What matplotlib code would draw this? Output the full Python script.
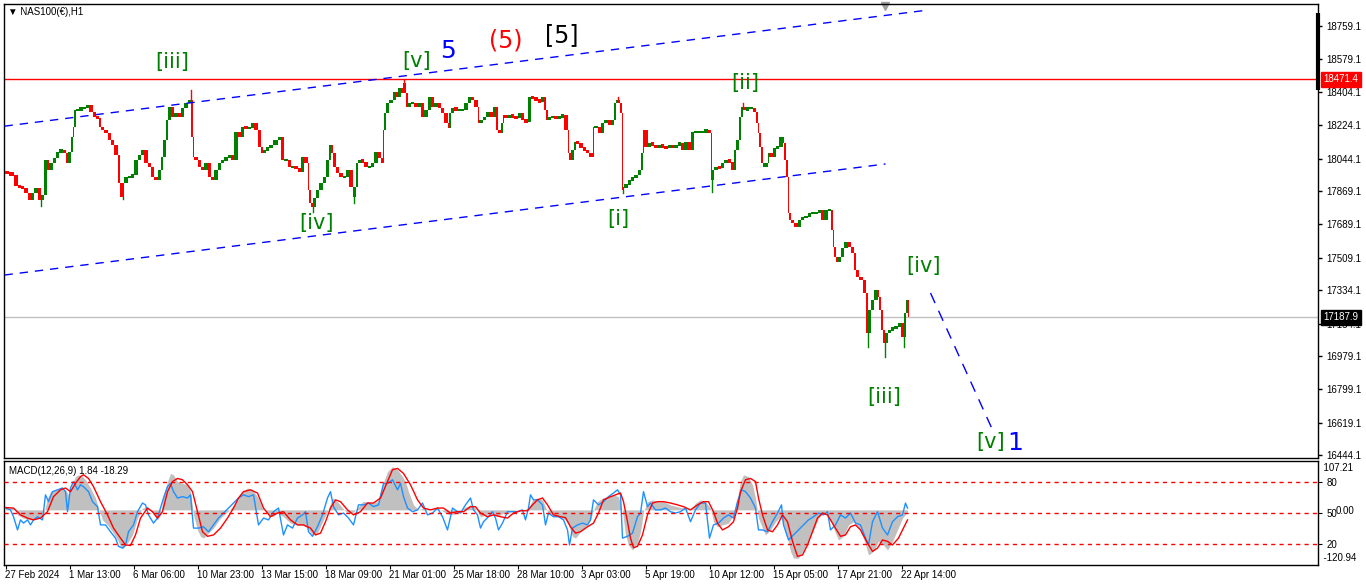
import numpy as np
import matplotlib.pyplot as plt
from matplotlib.transforms import blended_transform_factory

# ---- price path (bar index, close) ----
bars = [0, 4, 9, 13, 16, 19, 23, 26, 29, 33, 36, 39, 42, 44, 48, 51, 54, 58, 61, 63,
        66, 68, 69, 71, 74, 78, 81, 84, 88, 91, 94, 96, 99, 103, 106, 109, 113, 115, 118, 119,
        123, 126, 129, 133, 136, 139, 143, 146, 149, 153, 156, 158, 161, 163, 166, 169, 173, 176, 179, 183,
        186, 188, 189, 193, 196, 199, 203, 206, 209, 213, 216, 219, 223, 226, 229, 233, 236, 239, 243, 246,
        249, 253, 256, 258, 261, 264, 268, 273, 276, 279, 283, 286, 289, 293, 296, 299, 303, 304, 306, 308,
        311, 314, 318, 321, 324, 326, 328, 331, 334, 338, 341, 344, 348, 349, 351, 353, 356, 359, 363, 366,
        369, 373, 376, 378, 379, 381, 384, 388, 391, 393, 396, 398, 399, 401, 403, 406, 409, 413, 416, 419,
        423, 426, 429, 433, 436, 439, 443, 444, 446, 449, 453, 456, 459, 463, 466, 469, 473, 474, 478, 481,
        484, 488, 491, 493, 496, 498, 499, 503, 506, 509, 513, 516, 519, 523, 526, 529, 533, 536, 539, 541,
        543, 546, 549, 553, 556, 559, 563, 564, 566, 569, 571, 574, 578, 581, 584, 588, 589, 593, 596, 599,
        603, 606, 609, 611, 613, 615, 617, 618, 619, 623, 626, 629, 633, 636, 638, 639, 643, 646, 649, 653,
        656, 659, 663, 666, 669, 673, 676, 679, 683, 686, 689, 693, 696, 699, 703, 706, 707, 709, 713, 716,
        719, 723, 726, 729, 731, 734, 736, 738, 741, 744, 748, 751, 753, 754, 756, 758, 759, 763, 764, 768,
        771, 774, 778, 779, 781, 783, 784, 786, 789, 793, 796, 799, 803, 806, 809, 813, 816, 819, 823, 826,
        828, 829, 831, 833, 836, 839, 843, 846, 849, 851, 854, 858, 861, 863, 866, 869, 873, 874, 876, 878,
        880, 883, 886, 889, 893, 896, 899, 901, 903, 904]
closes = [17971, 17966, 17955, 17896, 17891, 17885, 17858, 17820, 17858, 17885, 17820, 17847, 18036, 17982, 18020, 18047, 18079, 18090, 18074, 18020,
          18079, 18160, 18214, 18306, 18306, 18317, 18317, 18333, 18295, 18268, 18263, 18214, 18198, 18182, 18144, 18117, 18063, 17912, 17837, 17912,
          17944, 17944, 17955, 18036, 18063, 18090, 18020, 17998, 17944, 17928, 17982, 18052, 18144, 18252, 18322, 18268, 18290, 18268, 18317, 18344,
          18360, 18160, 18052, 18036, 17998, 17982, 18020, 17944, 17928, 17982, 18020, 18036, 18047, 18063, 18036, 18187, 18160, 18214, 18209, 18209,
          18236, 18198, 18106, 18074, 18090, 18101, 18117, 18144, 18160, 18036, 18036, 17998, 17998, 17993, 17971, 18052, 18020, 17874, 17804, 17783,
          17831, 17874, 17912, 17944, 18036, 18117, 18074, 17998, 17966, 17944, 17944, 17982, 17891, 17837, 17891, 18020, 18036, 18025, 17998, 17998,
          18020, 18079, 18047, 18020, 18198, 18290, 18344, 18360, 18403, 18376, 18424, 18397, 18451, 18397, 18322, 18344, 18344, 18322, 18344, 18268,
          18306, 18376, 18322, 18344, 18317, 18290, 18236, 18209, 18290, 18317, 18306, 18306, 18306, 18344, 18376, 18360, 18322, 18236, 18252, 18268,
          18295, 18268, 18322, 18198, 18182, 18236, 18279, 18263, 18279, 18268, 18263, 18290, 18252, 18241, 18376, 18371, 18360, 18349, 18376, 18306,
          18252, 18268, 18268, 18263, 18268, 18279, 18198, 18074, 18036, 18090, 18133, 18128, 18101, 18090, 18074, 18052, 18214, 18214, 18182, 18236,
          18252, 18225, 18252, 18344, 18360, 18344, 18290, 17874, 17891, 17901, 17928, 17939, 17955, 17982, 18074, 18198, 18106, 18128, 18117, 18101,
          18117, 18106, 18101, 18117, 18101, 18117, 18128, 18090, 18133, 18090, 18187, 18187, 18187, 18187, 18198, 18182, 17928, 17982, 17998, 17993,
          18020, 18036, 18025, 17982, 18090, 18144, 18268, 18322, 18306, 18317, 18317, 18295, 18236, 18182, 18106, 18020, 17998, 18020, 18074, 18052,
          18101, 18106, 18160, 18128, 18036, 17944, 17750, 17713, 17696, 17675, 17713, 17729, 17729, 17750, 17750, 17750, 17766, 17713, 17766, 17766,
          17659, 17567, 17513, 17486, 17513, 17562, 17594, 17567, 17535, 17443, 17405, 17389, 17319, 17103, 17227, 17281, 17335, 17297, 17227, 17119,
          17049, 17103, 17119, 17130, 17135, 17157, 17082, 17211, 17281, 17189]

# wick extremes (bar, price)
spike_bars = [36, 118, 186, 308, 349, 399, 613, 618, 707, 738, 863, 880, 899]
spike_prices = [17788, 17826, 18414, 17756, 17804, 18468, 18376, 17858, 17864, 18344, 17028, 16974, 17028]

price_ticks = [18759.1, 18579.1, 18404.1, 18224.1, 18044.1, 17869.1, 17689.1, 17509.1,
               17334.1, 17154.1, 16979.1, 16799.1, 16619.1, 16444.1]
resistance = 18471.4
last_price = 17187.9

# channel / projection lines (bar, price)
upper_chan = ([0, 923], [18219, 18845])
lower_chan = ([0, 881], [17416, 18015])
projection = ([926, 989], [17319, 16569])

# wave labels: text, bar, price, colour, size
waves = [("[iii]", 168, 18565, "#008000", 15), ("[v]", 412, 18570, "#008000", 15),
         ("5", 443, 18624, "#0000ff", 18), ("(5)", 501, 18683, "#ff0000", 17),
         ("[5]", 557, 18710, "#000000", 17), ("[ii]", 741, 18451, "#008000", 15),
         ("[iv]", 312, 17696, "#008000", 15), ("[i]", 614, 17718, "#008000", 15),
         ("[iv]", 919, 17465, "#008000", 15), ("[iii]", 880, 16758, "#008000", 15),
         ("[v]", 986, 16515, "#008000", 15), ("1", 1011, 16510, "#0000ff", 18)]

# ---- MACD panel ----
hist_bars = [1, 9, 13, 19, 26, 33, 39, 43, 46, 51, 56, 61, 64, 68, 71, 74, 78, 81, 86, 91,
             94, 98, 103, 108, 113, 116, 119, 123, 128, 133, 138, 143, 148, 153, 156, 159, 163, 166, 169, 173,
             178, 183, 186, 189, 193, 196, 199, 204, 209, 216, 223, 228, 233, 238, 243, 248, 253, 258, 263, 268,
             273, 279, 286, 293, 298, 303, 308, 313, 318, 323, 328, 333, 338, 343, 348, 353, 358, 363, 368, 373,
             378, 383, 388, 393, 398, 401, 404, 409, 414, 419, 426, 433, 439, 446, 453, 459, 466, 471, 476, 481,
             486, 493, 499, 506, 513, 519, 524, 528, 533, 538, 543, 548, 553, 558, 561, 564, 568, 571, 576, 581,
             586, 589, 593, 598, 603, 609, 614, 618, 621, 624, 628, 633, 636, 639, 643, 648, 653, 659, 666, 673,
             679, 686, 691, 696, 701, 706, 709, 713, 718, 724, 729, 733, 736, 739, 744, 748, 751, 754, 758, 761,
             766, 771, 776, 779, 783, 786, 789, 794, 799, 804, 809, 814, 819, 824, 829, 834, 839, 844, 849, 854,
             859, 864, 869, 874, 879, 883, 888, 893, 898, 903]
hist_vals = [4, 5, -11, -18, -22, -18, -11, 26, 40, 44, 48, 44, 33, 58, 73, 77, 73, 66, 48, 26,
             4, -22, -33, -48, -66, -80, -84, -73, -55, -18, 4, 7, -7, -22, -11, 33, 62, 80, 77, 62,
             58, 55, 40, -11, -44, -58, -62, -51, -40, -18, -4, 7, 22, 40, 48, 44, 29, 4, -7, -15,
             -7, -15, -29, -33, -33, -40, -55, -51, -26, -4, 26, 18, 4, -7, -7, 4, 18, 18, 15, 18,
             55, 84, 95, 88, 73, 62, 40, 11, 0, 4, 0, 4, -4, -11, -7, 4, 11, 4, -15, -11,
             -7, -15, -7, -4, 0, 0, 4, 22, 26, 22, -4, -11, -15, -18, -22, -33, -58, -62, -48, -37,
             -22, 0, 18, 26, 29, 33, 29, -4, -55, -77, -88, -73, -48, -4, 18, 22, 18, 18, 11, 7,
             4, 0, 15, 22, 18, 4, -26, -37, -33, -29, -11, 26, 62, 77, 73, 55, 26, -18, -40, -55,
             -44, -26, -15, -33, -62, -91, -106, -106, -88, -66, -44, -18, -7, -11, -40, -66, -58, -33, -26, -37,
             -62, -99, -91, -69, -77, -88, -69, -44, -18, -4]

sig_bars = [1, 9, 16, 23, 29, 36, 43, 49, 56, 61, 66, 71, 76, 79, 84, 89, 96, 103, 109, 116,
            121, 126, 131, 136, 143, 148, 153, 158, 163, 168, 173, 178, 183, 188, 193, 198, 203, 209, 216, 223,
            229, 234, 239, 246, 253, 259, 266, 273, 279, 286, 293, 299, 306, 311, 316, 321, 326, 331, 336, 343,
            349, 356, 363, 369, 376, 383, 388, 393, 399, 406, 413, 419, 426, 433, 439, 446, 453, 459, 466, 471,
            476, 483, 489, 496, 503, 509, 516, 523, 528, 533, 538, 543, 549, 556, 561, 566, 571, 576, 583, 589,
            594, 599, 604, 611, 616, 619, 623, 626, 629, 633, 638, 643, 648, 653, 659, 666, 673, 679, 686, 693,
            699, 704, 709, 713, 718, 724, 729, 733, 736, 741, 746, 751, 754, 758, 763, 768, 773, 778, 783, 788,
            793, 798, 803, 808, 813, 818, 823, 829, 836, 841, 846, 851, 856, 863, 868, 873, 878, 883, 888, 894,
            899, 903]
sig_vals = [5, 4, -11, -18, -22, -18, -4, 29, 44, 48, 40, 58, 73, 77, 69, 51, 18, -11, -40, -62,
            -77, -78, -55, -18, 4, -4, -18, -4, 40, 62, 69, 66, 55, 40, -4, -48, -58, -55, -40, -18,
            4, 26, 40, 44, 37, 4, -15, -7, -4, -22, -33, -33, -40, -55, -51, -26, 4, 22, 18, 0,
            -11, -4, 15, 15, 26, 62, 88, 91, 80, 55, 22, 4, 0, 4, 4, -7, -4, -4, 7, 7,
            -7, -15, -11, -15, -18, -7, -2, -2, 11, 22, 26, 11, -11, -15, -17, -37, -51, -48, -37, -29,
            -7, 22, 27, 33, 37, 18, -26, -62, -83, -80, -55, -11, 15, 18, 18, 15, 11, 7, 0, 11,
            18, 18, -4, -29, -44, -37, -26, 4, 40, 66, 69, 62, 26, -11, -44, -48, -33, -11, -26, -69,
            -102, -99, -77, -48, -18, -7, -11, -33, -58, -55, -37, -33, -44, -73, -91, -84, -66, -69, -77, -62,
            -40, -22]

fast_bars = [1, 6, 9, 13, 16, 19, 23, 26, 29, 33, 38, 41, 44, 48, 53, 58, 61, 63, 66, 69,
             73, 76, 79, 84, 88, 93, 96, 101, 106, 111, 114, 118, 121, 124, 129, 133, 138, 141, 144, 149,
             153, 156, 159, 163, 166, 169, 173, 178, 183, 186, 189, 194, 199, 204, 209, 214, 219, 224, 229, 234,
             239, 244, 249, 254, 259, 264, 269, 274, 279, 283, 288, 293, 298, 301, 304, 308, 313, 318, 323, 326,
             329, 334, 339, 344, 349, 354, 359, 364, 369, 374, 379, 383, 388, 393, 396, 399, 403, 408, 413, 418,
             423, 428, 433, 438, 443, 448, 453, 456, 461, 466, 469, 473, 476, 479, 484, 488, 491, 494, 498, 503,
             508, 513, 518, 521, 524, 526, 529, 533, 538, 541, 544, 549, 554, 559, 563, 565, 568, 573, 578, 583,
             586, 589, 594, 599, 604, 609, 613, 616, 618, 623, 628, 633, 636, 639, 643, 646, 651, 656, 661, 666,
             671, 676, 681, 686, 691, 696, 701, 705, 709, 714, 719, 724, 729, 733, 737, 741, 746, 751, 754, 758,
             763, 768, 773, 777, 779, 784, 789, 794, 799, 804, 809, 814, 819, 823, 826, 831, 836, 841, 846, 851,
             856, 861, 864, 868, 873, 878, 883, 888, 893, 898, 901, 903]
fast_vals = [4, 0, -15, -44, -22, -29, -22, -33, -22, -15, -22, 33, 18, 40, 44, 48, 40, -4, 48, 62,
             44, 55, 51, 40, 18, 7, -33, -33, -48, -62, -80, -84, -77, -48, -33, -4, 15, 11, -11, -29,
             -18, 4, 26, 51, 58, 40, 26, 29, 26, 33, -40, -40, -37, -48, -33, -18, -7, 4, 15, 26,
             33, 29, 33, -33, -18, -22, -4, 4, -55, -33, -40, -18, -11, -4, -48, -58, -37, -11, 26, 40,
             7, -11, -7, -18, -33, 11, 11, 15, 7, 11, 58, 58, 66, 44, 58, 29, 4, -4, 0, 15,
             -11, -7, 4, -15, -44, 4, -4, -7, 11, 26, 0, -11, -40, -26, -15, -4, -18, -44, -29, -4,
             -4, -4, 0, -22, 4, 33, 22, 22, 11, -33, -7, -15, -15, -22, -44, -77, -40, -33, -29, -33,
             -22, 22, 11, 18, 29, 37, 44, 33, -62, -58, -51, -15, -7, 40, 7, 15, 0, 0, 4, -4,
             -7, -4, 4, -26, 0, 15, 15, -62, -33, -29, -18, -11, -18, 18, 44, 40, 26, 4, -44, -44,
             -48, -26, -7, 11, -33, -66, -55, -44, -33, -22, -15, -7, -11, -4, -44, -33, -11, -18, -7, -29,
             -33, -62, -77, -26, -4, -40, -55, -26, -15, -11, 15, 4]

macd_top, macd_bottom = 107.21, -120.94
levels = [80, 50, 20]

time_labels = ["27 Feb 2024", "1 Mar 13:00", "6 Mar 06:00", "10 Mar 23:00", "13 Mar 15:00",
               "18 Mar 09:00", "21 Mar 01:00", "25 Mar 18:00", "28 Mar 10:00", "3 Apr 03:00",
               "5 Apr 19:00", "10 Apr 12:00", "15 Apr 05:00", "17 Apr 21:00", "22 Apr 14:00"]
label_step = 64

GREEN = "#008000"
RED = "#ff0000"
FONT = ["Liberation Sans", "DejaVu Sans"]

W, H = 1366, 588
fig = plt.figure(figsize=(W / 100, H / 100), dpi=100)
fig.patch.set_facecolor("white")


def px_axes(x0, y0, x1, y1):
    return fig.add_axes([x0 / W, 1 - y1 / H, (x1 - x0) / W, (y1 - y0) / H])


ax = px_axes(4, 4, 1318, 458)
axm = px_axes(4, 461, 1318, 565)
xmin, xmax = -0.5, 1313.5

# ---- candles ----
b = np.array(bars, dtype=float)
c = np.array(closes, dtype=float)
o = c[:-1]
cl = c[1:]
lo = np.minimum(o, cl)
hi = np.maximum(o, cl)
small = (hi - lo) < 14
lo[small] -= 7
hi[small] += 7
cols = np.where(cl >= o, GREEN, RED)
ax.bar(b[:-1] + 0.5, hi - lo, width=np.diff(b), bottom=lo, align="edge",
       color=cols, linewidth=0, zorder=3)
for sb, sp in zip(spike_bars, spike_prices):
    ref = c[np.argmin(np.abs(b - sb))]
    ax.plot([sb + 0.5, sb + 0.5], [ref, sp], color=RED if sp > ref else GREEN, lw=1, zorder=3)

ax.axhline(resistance, color=RED, lw=1, zorder=2)
ax.axhline(last_price, color="#c0c0c0", lw=1, zorder=2)
for xs, ys in (upper_chan, lower_chan):
    ax.plot(xs, ys, color="#0000ff", lw=1, dashes=(6, 5), zorder=4)
ax.plot(*projection, color="#0000ff", lw=1, dashes=(8, 6), zorder=4)

for txt, tb, tp, col, fs in waves:
    ax.text(tb, tp, txt, color=col, fontsize=fs, ha="center", va="center",
            family="DejaVu Sans", zorder=5)

ax.set_xlim(xmin, xmax)
ax.set_ylim(16429, 18878)
ax.set_xticks([])
ax.yaxis.tick_right()
ax.set_yticks(price_ticks)
ax.set_yticklabels([f"{v:.1f}" for v in price_ticks], family=FONT, fontsize=7)
ax.tick_params(axis="y", length=3, width=1, pad=3, colors="black")

ax.annotate(f"{resistance:.1f}", xy=(1.0, resistance), xycoords=("axes fraction", "data"),
            xytext=(4, 0), textcoords="offset points", va="center", ha="left",
            color="white", fontsize=7, family=FONT, zorder=6, annotation_clip=False,
            bbox=dict(boxstyle="square,pad=0.25", fc=RED, ec=RED))
ax.annotate(f"{last_price:.1f}", xy=(1.0, last_price), xycoords=("axes fraction", "data"),
            xytext=(4, 0), textcoords="offset points", va="center", ha="left",
            color="white", fontsize=7, family=FONT, zorder=6, annotation_clip=False,
            bbox=dict(boxstyle="square,pad=0.25", fc="black", ec="black"))
ax.plot([1.0, 1.0], [0.98, 0.81], transform=ax.transAxes, color="black", lw=3,
        clip_on=False, solid_capstyle="butt")
ax.plot([880], [0.995], transform=blended_transform_factory(ax.transData, ax.transAxes),
        marker="v", color="#a0a0a0", ms=6, clip_on=False)
ax.text(0.003, 0.982, "\u25bc NAS100(\u20ac),H1", transform=ax.transAxes, fontsize=7,
        family=FONT, va="center", ha="left")

# ---- MACD ----
axm.fill_between(hist_bars, 0, hist_vals, color="#c0c0c0", lw=0, zorder=2)
axm.plot(fast_bars, fast_vals, color="#1e90ff", lw=1, zorder=3)
axm.plot(sig_bars, sig_vals, color=RED, lw=1, zorder=4)
axm.set_xlim(xmin, xmax)
axm.set_ylim(macd_bottom, macd_top)

axo = axm.twinx()
axo.set_ylim(0, 100)
for lv in levels:
    axo.axhline(lv, color=RED, lw=1, dashes=(3, 3), zorder=1)
axo.set_yticks(levels)
axo.set_yticklabels([str(v) for v in levels], family=FONT, fontsize=7)
axo.tick_params(axis="y", length=3, pad=3)
for s in axo.spines.values():
    s.set_visible(False)

# MT4 prints the MACD zero level just above the oscillator's 50 level
axm.set_yticks([0])
axm.yaxis.tick_right()
axm.set_yticklabels(["0.00"], family=FONT, fontsize=7)
axm.tick_params(axis="y", length=0, pad=13)
axm.text(1.0, 0.93, f"  {macd_top:.2f}", transform=axm.transAxes, fontsize=7,
         family=FONT, va="center", ha="left")
axm.text(1.0, 0.07, f"  {macd_bottom:.2f}", transform=axm.transAxes, fontsize=7,
         family=FONT, va="center", ha="left")
axm.text(0.004, 0.9, "MACD(12,26,9) 1.84 -18.29", transform=axm.transAxes, fontsize=7,
         family=FONT, va="center", ha="left")

tick_bars = [1 + label_step * i for i in range(len(time_labels))]
axm.set_xticks(tick_bars)
axm.set_xticklabels([])
axm.tick_params(axis="x", length=3, direction="out")
tr = blended_transform_factory(axm.transData, axm.transAxes)
for i, lab in enumerate(time_labels):
    axm.text(label_step * i + 0.5, -0.1, lab, transform=tr, fontsize=7, family=FONT,
             va="center", ha="left")

for a in (ax, axm):
    for s in a.spines.values():
        s.set_linewidth(1)
        s.set_color("black")

fig.savefig("out.png", dpi=100)
